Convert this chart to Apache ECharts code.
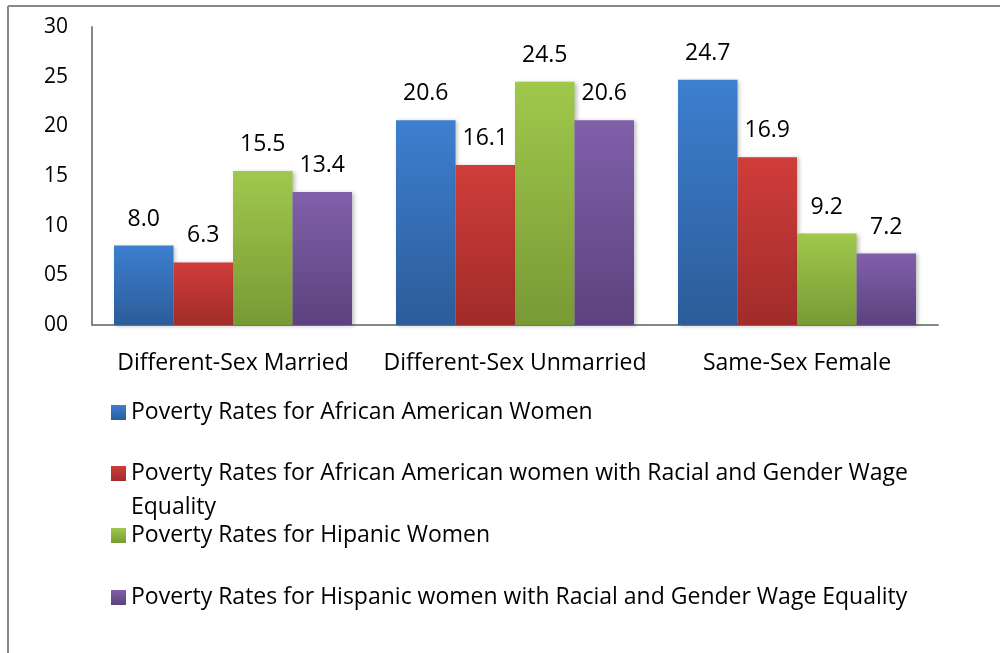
<!DOCTYPE html>
<html>
<head>
<meta charset="utf-8">
<script src="https://cdn.jsdelivr.net/npm/echarts@6/dist/echarts.min.js"></script>
<style>
html,body{margin:0;padding:0;background:#fff;}
#c{width:1000px;height:653px;}
</style>
</head>
<body>
<div id="c"></div>
<script>
var categories = ['Different-Sex Married', 'Different-Sex Unmarried', 'Same-Sex Female'];
var seriesNames = [
  'Poverty Rates for African American Women',
  'Poverty Rates for African American women with Racial and Gender Wage Equality',
  'Poverty Rates for Hipanic Women',
  'Poverty Rates for Hispanic women with Racial and Gender Wage Equality'
];
var africanAmerican = [8.0, 20.6, 24.7];
var africanAmericanEq = [6.3, 16.1, 16.9];
var hispanic = [15.5, 24.5, 9.2];
var hispanicEq = [13.4, 20.6, 7.2];
var yTicks = ['00', '05', '10', '15', '20', '25', '30'];

var FONT = 'Open Sans';
var FS = 23;
var gradients = [
  ['#3d7fd0', '#2c5c99'],
  ['#d03d3a', '#a02c2a'],
  ['#a0c84c', '#789a35'],
  ['#8060aa', '#5c427e']
];
var values = [africanAmerican, africanAmericanEq, hispanic, hispanicEq];

var chart = echarts.init(document.getElementById('c'), null, {renderer: 'canvas'});

var series = values.map(function (v, i) {
  return {
    name: seriesNames[i],
    type: 'bar',
    data: v,
    barGap: '0%',
    barCategoryGap: '15.6%',
    itemStyle: {
      color: new echarts.graphic.LinearGradient(0, 0, 0, 1, [
        {offset: 0, color: gradients[i][0]},
        {offset: 1, color: gradients[i][1]}
      ]),
      shadowColor: 'rgba(0,0,0,0.25)',
      shadowBlur: 4,
      shadowOffsetX: 2,
      shadowOffsetY: 1
    },
    label: {
      show: true,
      position: 'top',
      distance: 15,
      fontFamily: FONT,
      fontSize: FS,
      color: '#000',
      formatter: function (p) { return p.value.toFixed(1); }
    }
  };
});

var legendTops = [401, 462, 524, 586];
var legends = seriesNames.map(function (n, i) {
  return {
    data: [n],
    left: 111,
    top: legendTops[i],
    padding: 0,
    orient: 'vertical',
    itemWidth: 15,
    itemHeight: 15,
    itemGap: 5,
    icon: 'rect',
    selectedMode: false,
    textStyle: {fontFamily: FONT, fontSize: FS, color: '#000'},
    formatter: function (name) {
      return i === 1 ? name.replace(' Equality', '') : name;
    }
  };
});

chart.setOption({
  animation: false,
  backgroundColor: '#fff',
  grid: {left: 92, right: 62, top: 27, bottom: 328, containLabel: false},
  legend: legends,
  graphic: [
    {type: 'line', shape: {x1: 8, y1: 6, x2: 8, y2: 653}, style: {stroke: '#888', lineWidth: 2}},
    {type: 'line', shape: {x1: 8, y1: 6, x2: 1000, y2: 6}, style: {stroke: '#888', lineWidth: 2}},
    {type: 'text', left: 131, top: 496, style: {text: 'Equality', fontFamily: FONT, fontSize: FS, fill: '#000'}}
  ],
  xAxis: {
    type: 'category',
    data: categories,
    axisLine: {lineStyle: {color: '#868686', width: 2}},
    axisTick: {show: false},
    axisLabel: {fontFamily: FONT, fontSize: FS, color: '#000', margin: 27, interval: 0}
  },
  yAxis: {
    type: 'value',
    min: 0,
    max: 30,
    interval: 5,
    axisLine: {show: true, lineStyle: {color: '#868686', width: 2}},
    axisTick: {show: false},
    splitLine: {show: false},
    axisLabel: {
      fontFamily: FONT, fontSize: 21, color: '#000', margin: 24,
      formatter: function (v) { return yTicks[Math.round(v / 5)]; }
    }
  },
  series: series
});
</script>
</body>
</html>
